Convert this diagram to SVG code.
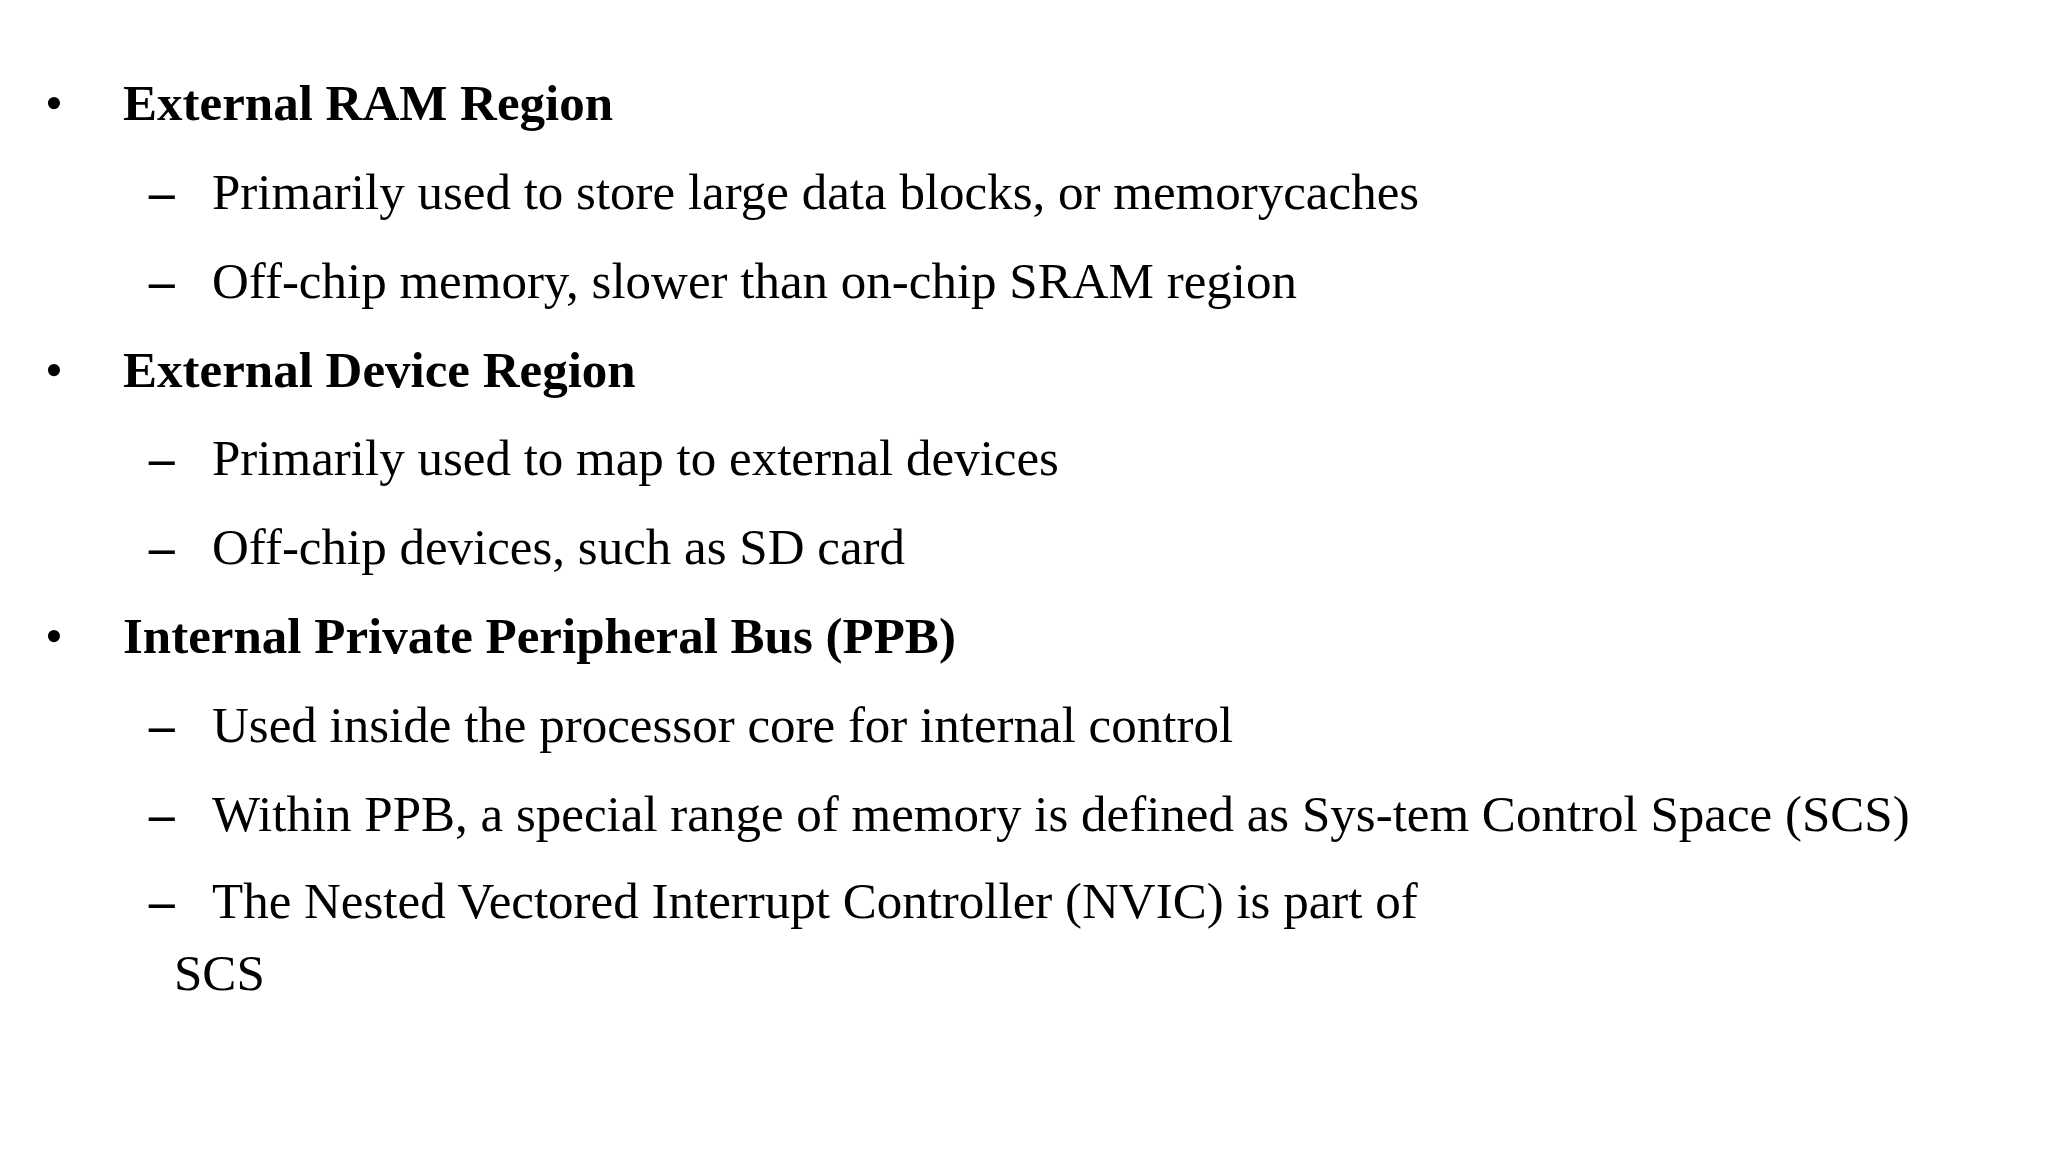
<svg xmlns="http://www.w3.org/2000/svg" width="2048" height="1152" viewBox="0 0 2048 1152">
<style>
text{font-family:"Liberation Serif","Times New Roman",serif;font-size:51px;fill:#000}
.b{font-weight:bold}
.d{font-weight:bold}
</style>
<rect width="2048" height="1152" fill="#fff"/>
<g id="item1">
<text x="45" y="120">•</text><text class="b" x="123" y="120">External RAM Region</text>
<text class="d" x="149" y="209">–</text><text x="212" y="209">Primarily used to store large data blocks, or memorycaches</text>
<text class="d" x="149" y="298">–</text><text x="212" y="298">Off-chip memory, slower than on-chip SRAM region</text>
</g>
<g id="item2">
<text x="45" y="387">•</text><text class="b" x="123" y="387">External Device Region</text>
<text class="d" x="149" y="475">–</text><text x="212" y="475">Primarily used to map to external devices</text>
<text class="d" x="149" y="564">–</text><text x="212" y="564">Off-chip devices, such as SD card</text>
</g>
<g id="item3">
<text x="45" y="653">•</text><text class="b" x="123" y="653">Internal Private Peripheral Bus (PPB)</text>
<text class="d" x="149" y="742">–</text><text x="212" y="742">Used inside the processor core for internal control</text>
<text class="d" x="149" y="831">–</text><text x="212" y="831">Within PPB, a special range of memory is defined as Sys-tem Control Space (SCS)</text>
<text class="d" x="149" y="918">–</text><text x="212" y="918">The Nested Vectored Interrupt Controller (NVIC) is part of</text>
<text x="174" y="990">SCS</text>
</g>
<g id="connectors"/>
</svg>
